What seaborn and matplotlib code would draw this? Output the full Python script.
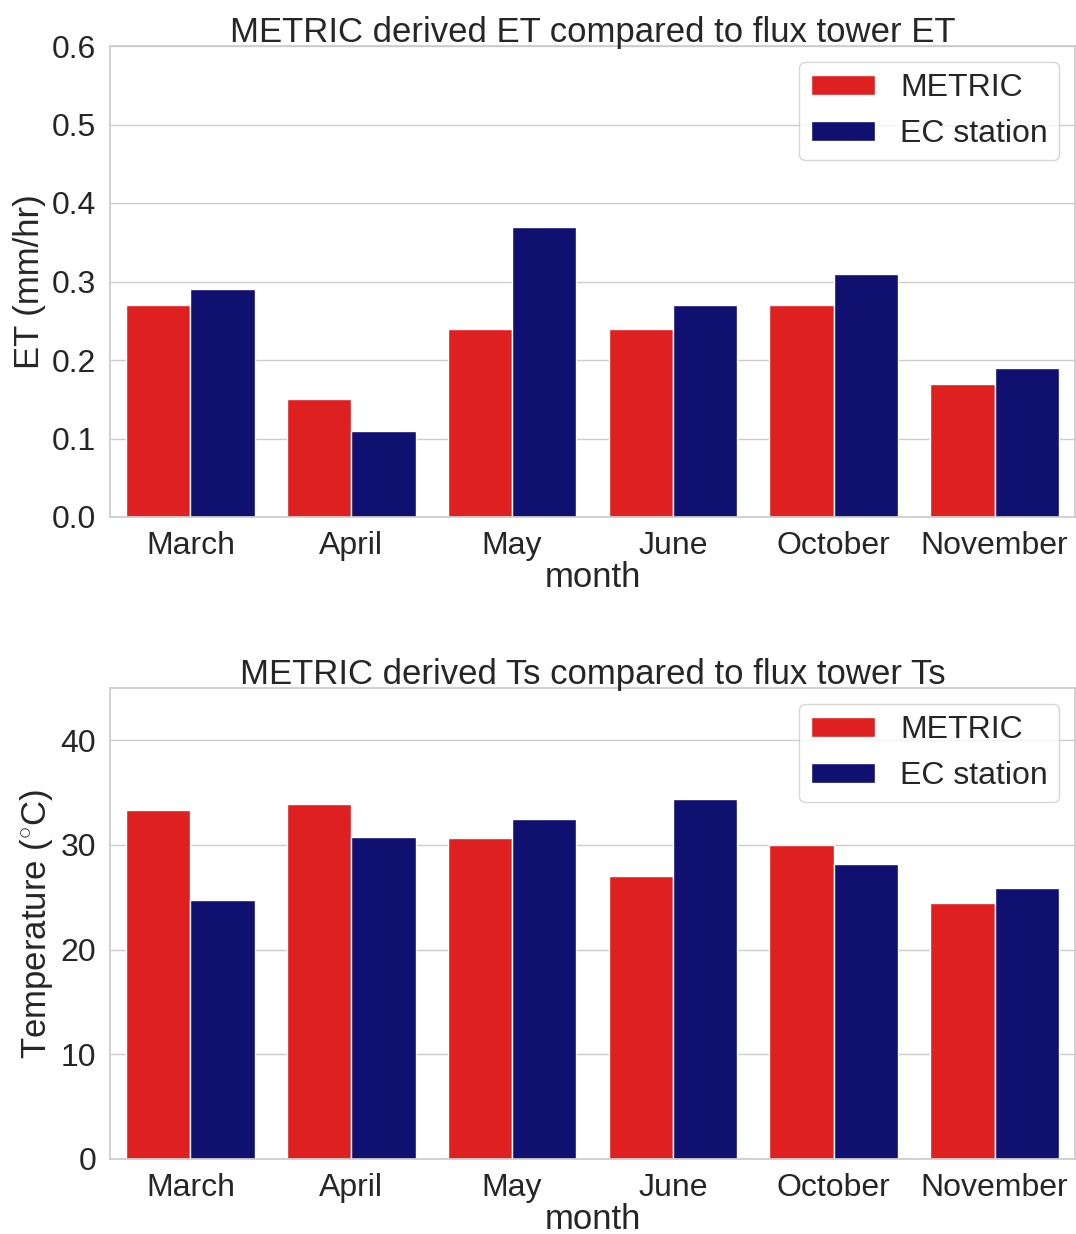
import matplotlib
matplotlib.use("Agg")
import matplotlib.pyplot as plt
import seaborn as sns
import pandas as pd

months = ["March", "April", "May", "June", "October", "November"]
et_metric = [0.27, 0.15, 0.24, 0.24, 0.27, 0.17]
et_ec = [0.29, 0.11, 0.37, 0.27, 0.31, 0.19]
ts_metric = [33.3, 33.9, 30.7, 27.0, 30.0, 24.5]
ts_ec = [24.7, 30.8, 32.5, 34.4, 28.2, 25.9]
series_names = ["METRIC", "EC station"]
palette = ["red", "navy"]

sns.set_theme(style="whitegrid")
plt.rcParams["font.family"] = ["Liberation Sans", "DejaVu Sans"]
plt.rcParams["mathtext.fontset"] = "custom"
plt.rcParams["mathtext.rm"] = "Liberation Sans"
plt.rcParams["mathtext.it"] = "Liberation Sans:italic"
plt.rcParams["text.color"] = "#262626"
plt.rcParams["axes.labelcolor"] = "#262626"
plt.rcParams["xtick.color"] = "#262626"
plt.rcParams["ytick.color"] = "#262626"

def make_df(a, b, col):
    return pd.DataFrame({
        "month": months * 2,
        col: list(a) + list(b),
        "source": [series_names[0]] * len(months) + [series_names[1]] * len(months),
    })

df_et = make_df(et_metric, et_ec, "ET")
df_ts = make_df(ts_metric, ts_ec, "Ts")

fig = plt.figure(figsize=(10.76, 12.34), dpi=100)
W, H = 1076, 1234
ax1 = fig.add_axes([110 / W, 1 - 517 / H, 965 / W, 471 / H])
ax2 = fig.add_axes([110 / W, 1 - 1159 / H, 965 / W, 471 / H])

fs_tick = 23
fs_label = 25
for ax, df, col, ylabel, title, ylim in [
    (ax1, df_et, "ET", "ET (mm/hr)", "METRIC derived ET compared to flux tower ET", (0, 0.6)),
    (ax2, df_ts, "Ts", "Temperature ($^{\\circ}$C)", "METRIC derived Ts compared to flux tower Ts", (0, 45)),
]:
    sns.barplot(data=df, x="month", y=col, hue="source", palette=palette,
                order=months, hue_order=series_names, ax=ax)
    ax.set_ylim(*ylim)
    ax.set_xlabel("month", fontsize=fs_label, labelpad=0)
    ax.set_ylabel(ylabel, fontsize=fs_label, labelpad=4)
    ax.set_title(title, fontsize=fs_label, pad=3)
    ax.tick_params(axis="both", labelsize=fs_tick, pad=4)
    leg = ax.legend(loc="upper right", fontsize=fs_tick, frameon=True,
                    handlelength=2.0, handleheight=0.6, borderpad=0.35,
                    labelspacing=0.5, handletextpad=0.8)
    leg.get_frame().set_edgecolor("#cccccc")

ax1.set_yticks([0.0, 0.1, 0.2, 0.3, 0.4, 0.5, 0.6])
ax1.set_yticklabels(["0.0", "0.1", "0.2", "0.3", "0.4", "0.5", "0.6"])
ax2.set_yticks([0, 10, 20, 30, 40])

fig.savefig("out.png", dpi=100)
